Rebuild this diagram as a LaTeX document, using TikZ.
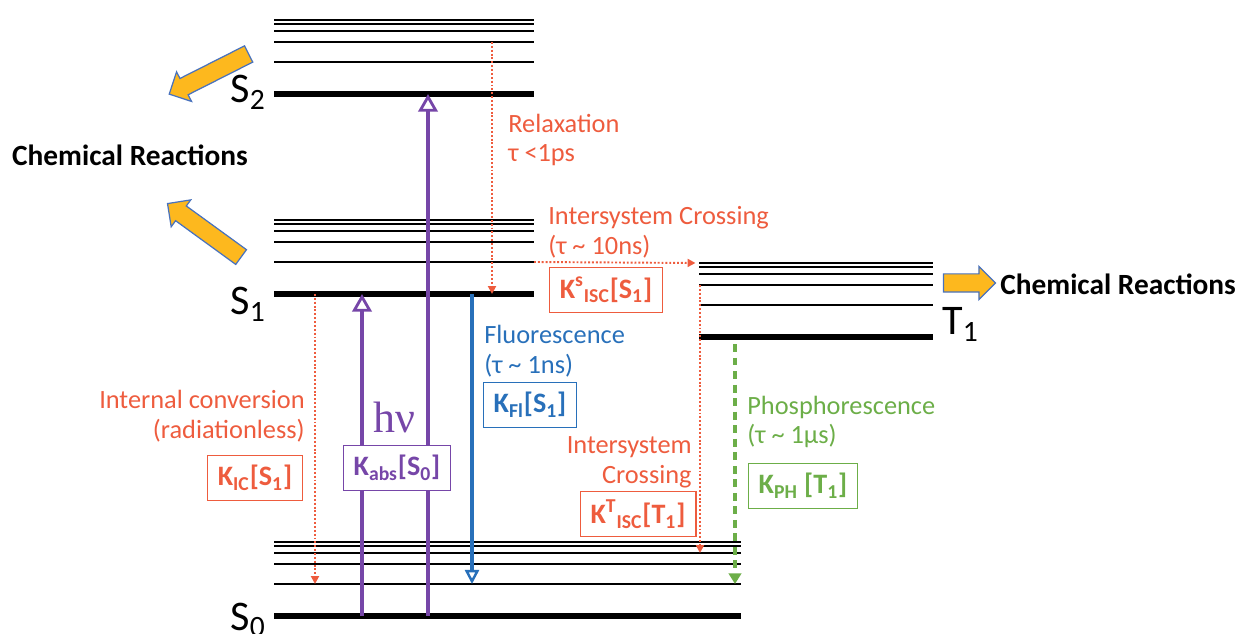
\documentclass[tikz,border=0pt]{standalone}
\usepackage{fontspec}
\setmainfont{Carlito}
\newfontfamily\hnufont{Liberation Serif}
\usetikzlibrary{arrows.meta,shapes.arrows,positioning}
\definecolor{iscred}{RGB}{238,92,62}
\definecolor{abspurple}{RGB}{118,70,168}
\definecolor{flblue}{RGB}{40,112,186}
\definecolor{phgreen}{RGB}{108,174,72}
\definecolor{reactgold}{RGB}{253,184,30}
\definecolor{reactedge}{RGB}{72,114,190}
\tikzset{
  sublevel/.style={line width=1.3pt},
  groundlevel/.style={line width=3.4pt},
  notetext/.style={font=\fontsize{15}{17}\selectfont, inner sep=0pt},
  rate/.style={draw, line width=0.6pt, fill=white, minimum height=0.9cm, inner xsep=6pt,
    font=\bfseries\fontsize{16}{18}\selectfont},
  statelab/.style={font=\fontsize{24}{24}\selectfont, inner sep=0pt},
  react/.style={single arrow, draw=reactedge, fill=reactgold, line width=0.7pt, inner xsep=0pt,
    inner ysep=0.17cm, single arrow head extend=0.15cm},
  reactlabel/.style={font=\bfseries\fontsize{16.7}{17}\selectfont, inner sep=0pt},
  radless/.style={iscred, line width=1.1pt, dash pattern=on 1.1pt off 1.1pt,
    -{Triangle[length=4.5pt,width=4.5pt]}},
  photon/.style={abspurple, line width=2.8pt, -{Triangle[open,length=10pt,width=11pt,line width=1.6pt]}},
  fluor/.style={flblue, line width=2.2pt, -{Triangle[open,length=8pt,width=8pt,line width=1.4pt]}},
  phos/.style={phgreen, line width=1.8pt, dash pattern=on 4.5pt off 3.2pt, -{Triangle[length=6pt,width=7pt]}},
}
\begin{document}
\begin{tikzpicture}[x=0.02cm, y=-0.02cm]
  \useasboundingbox (0,0) rectangle (1241,634);
  \foreach \name/\xa/\xb/\yb in {S2/274/534/94, S1/274/534/294, T1/699/933/337, S0/274/741/616}{
    \foreach \d [count=\k] in {74,70,63,52,32}
      \draw[sublevel] (\xa,\yb-\d) coordinate (\name-\k) -- (\xb,\yb-\d) coordinate (\name-\k r);
    \draw[groundlevel] (\xa,\yb) coordinate (\name) -- (\xb,\yb) coordinate (\name r);
  }

  \coordinate (icx) at (315,0);
  \coordinate (abx) at (362,0);
  \coordinate (abxx) at (428,0);
  \coordinate (flx) at (472,0);
  \coordinate (relx) at (492,0);
  \coordinate (iscx) at (700,0);
  \coordinate (phx) at (735,0);

  \draw[photon] (abx |- S0) -- (abx |- S1);
  \draw[photon] (abxx |- S0) -- (abxx |- S2);
  \draw[radless] (relx |- S2-4) -- (relx |- S1);
  \draw[radless] (icx |- S1) -- (icx |- S0-5);
  \draw[radless] (S1-5r) -- ([xshift=-2pt]T1-1);
  \draw[radless] (iscx |- T1-4) -- (iscx |- S0-3);
  \draw[fluor] (flx |- S1) -- (flx |- S0-5);
  \draw[phos] ([yshift=-4pt]phx |- T1) -- (phx |- S0-5);

  \node[rate, draw=iscred, text=iscred] (kic) at (255,478) {K\textsubscript{IC}[S\textsubscript{1}]};
  \node[rate, draw=abspurple, text=abspurple] (kabs) at (397,468) {K\textsubscript{abs}[S\textsubscript{0}]};
  \node[rate, draw=flblue, text=flblue] (kfl) at (530,405) {K\textsubscript{Fl}[S\textsubscript{1}]};
  \node[rate, draw=iscred, text=iscred] (kisc) at (606,290) {K\textsuperscript{s}\textsubscript{ISC}[S\textsubscript{1}]};
  \node[rate, draw=iscred, text=iscred] (kisct) at (638,514) {K\textsuperscript{T}\textsubscript{ISC}[T\textsubscript{1}]};
  \node[rate, draw=phgreen, text=phgreen] (kph) at (803,486) {K\textsubscript{PH} [T\textsubscript{1}]};

  \node[notetext, iscred, anchor=west, align=left] (relax) at (508,140) {Relaxation\\τ <1ps};
  \node[notetext, iscred, anchor=west, align=left] (iscnote) at (548,232) {Intersystem Crossing\\(τ \textasciitilde{} 10ns)};
  \node[notetext, flblue, anchor=west, align=left] (flnote) at (484,351) {Fluorescence\\(τ \textasciitilde{} 1ns)};
  \node[notetext, iscred, anchor=east, align=right] (icnote) at (305,416) {Internal conversion\\(radiationless)};
  \node[notetext, phgreen, anchor=west, align=left] (phnote) at (747,422) {Phosphorescence\\(τ \textasciitilde{} 1μs)};
  \node[notetext, iscred, anchor=east, align=right] (isctnote) at (692,462) {Intersystem\\Crossing};
  \node[abspurple, font=\hnufont\fontsize{25}{25}\selectfont, anchor=base, inner sep=0pt] (hnu) at (394,433) {hν};

  \node[statelab, anchor=base east] (s2lab) at (266,103) {S\textsubscript{2}};
  \node[statelab, anchor=base east] (s1lab) at (266,315) {S\textsubscript{1}};
  \node[statelab, anchor=base east] (s0lab) at (266,630) {S\textsubscript{0}};
  \node[statelab, anchor=base west] (t1lab) at (942,335) {T\textsubscript{1}};

  \node[reactlabel] (crleft) at (130,155) {Chemical Reactions};
  \node[reactlabel, anchor=west] (crright) at (1000,284) {Chemical Reactions};
  \node[react, minimum height=1.78cm, rotate=206.8] (crarrow1) at (213,72) {};
  \node[react, minimum height=1.82cm, rotate=144] (crarrow2) at (208,233) {};
  \node[react, minimum height=1.04cm] (crarrow3) at (965,283) {};
\end{tikzpicture}
\end{document}
